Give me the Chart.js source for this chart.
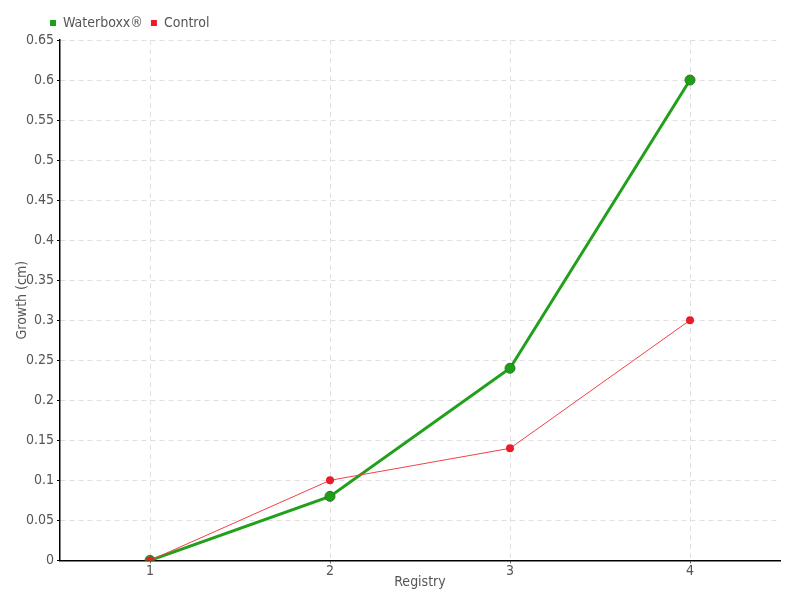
<!DOCTYPE html>
<html>
<head>
<meta charset="utf-8">
<script src="https://cdn.jsdelivr.net/npm/chart.js@4"></script>
<style>
  body { margin: 0; background: #fff; }
  #wrap { width: 800px; height: 600px; }
</style>
</head>
<body>
<div id="wrap"><canvas id="chart"></canvas></div>
<script>
const registry = ['1', '2', '3', '4'];
const waterboxx = [0, 0.08, 0.24, 0.6];
const control = [0, 0.1, 0.14, 0.3];

Chart.defaults.font.family = '"Liberation Sans Narrow", "DejaVu Sans Condensed", sans-serif';
Chart.defaults.font.size = 14;
Chart.defaults.color = '#555';

new Chart('chart', {
  type: 'line',
  data: {
    labels: registry,
    datasets: [{
      label: 'Waterboxx®',
      data: waterboxx,
      borderColor: '#22a01c',
      backgroundColor: '#1f9e1a',
      borderWidth: 3,
      pointRadius: 5,
      pointBorderWidth: 1,
      pointBorderColor: '#2a7a22',
      order: 1,
      tension: 0
    }, {
      label: 'Control',
      data: control,
      borderColor: '#f2404a',
      backgroundColor: '#ea1c2b',
      borderWidth: 1,
      pointRadius: 4,
      pointBorderWidth: 0,
      order: 0,
      tension: 0
    }]
  },
  options: {
    responsive: true,
    maintainAspectRatio: false,
    animation: false,
    layout: { padding: { left: 0, right: 20, top: 8, bottom: 9 } },
    plugins: {
      legend: {
        align: 'start',
        labels: {
          boxWidth: 6,
          boxHeight: 6,
          padding: 8,
          color: '#555',
          sort: (a, b) => a.datasetIndex - b.datasetIndex,
          generateLabels(chart) {
            const items = Chart.defaults.plugins.legend.labels.generateLabels(chart);
            items.forEach(it => { it.lineWidth = 0; it.strokeStyle = it.fillStyle; });
            return items;
          }
        }
      },
      tooltip: { enabled: false }
    },
    scales: {
      x: {
        offset: true,
        grid: {
          offset: false,
          color: '#e0e0e0',
          tickColor: '#666',
          tickLength: 3,
          tickBorderDash: []
        },
        border: { color: '#000', width: 1.5, dash: [5, 4] },
        ticks: { color: '#555', padding: 0 },
        title: { display: true, text: 'Registry', color: '#555', padding: { top: -6, bottom: 0 } }
      },
      y: {
        min: 0,
        max: 0.65,
        afterFit(scale) { scale.width = 60; },
        grid: {
          color: '#e0e0e0',
          tickColor: '#000',
          tickLength: 3,
          tickBorderDash: []
        },
        border: { color: '#000', width: 1.5, dash: [5, 4] },
        ticks: {
          stepSize: 0.05,
          color: '#555',
          padding: 3,
          callback: v => String(Math.round(v * 100) / 100)
        },
        title: { display: true, text: 'Growth (cm)', color: '#555', padding: { top: 14, bottom: 0 } }
      }
    }
  },
  plugins: [{
    id: 'legendShift',
    afterLayout(chart) {
      chart.legend.left = 42;
    }
  }]
});
</script>
</body>
</html>
